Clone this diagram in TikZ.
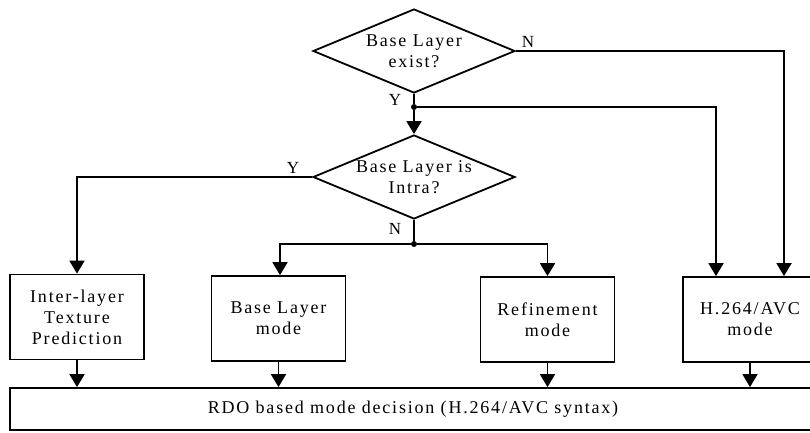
\documentclass[tikz,border=0pt]{standalone}
\usepackage{fontspec}
\setmainfont{Liberation Serif}[LetterSpace=10]
\usetikzlibrary{shapes.geometric,arrows.meta,positioning,calc}
\tikzset{
    decision/.style={draw, diamond, aspect=2.4, minimum width=202pt,
                     minimum height=84pt, inner sep=0pt, align=center,
                     line width=1.8pt, font=\fontsize{18}{21}\selectfont},
    modeblock/.style={draw, rectangle, minimum width=134pt, minimum height=85pt,
                      align=center, line width=1.8pt,
                      font=\fontsize{18}{21}\selectfont},
    branch/.style={fill, circle, minimum size=6pt, inner sep=0pt},
    yn/.style={font=\fontsize{17}{17}\selectfont, inner sep=0pt},
    % Arrow styles
    flow/.style={-{Triangle[width=15pt,length=13pt]}, line width=1.8pt},
    wire/.style={line width=1.8pt}
}

\begin{document}
\begin{tikzpicture}[x=1pt, y=-1pt]
    \useasboundingbox (0,0) rectangle (810,432);
    \clip (0,0) rectangle (810,432);

    % Decisions
    \node[decision] (exist) at (414,51) {Base Layer\\exist?};
    \node[decision] (intra) at (414,177) {Base Layer is\\Intra?};

    % Mode blocks
    \node[modeblock] (texture) at (77,317) {Inter-layer\\Texture\\Prediction};
    \node[modeblock] (baselayer) at (278.5,318.5) {Base Layer\\mode};
    \node[modeblock] (refine) at (547.5,319.5) {Refinement\\mode};
    \node[modeblock] (avc) at (750,319.5) {H.264/AVC\\mode};
    \node[draw, rectangle, line width=1.8pt, minimum width=806pt, minimum height=42pt,
          font=\fontsize{18}{21}\selectfont] (rdo) at (413,409)
          {RDO based mode decision (H.264/AVC syntax)};

    % Branch points
    \node[branch] (ydot) at (414,107) {};
    \node[branch] (ndot) at (414,244) {};

    % Base layer exists?
    \draw[wire] (exist.south) -- (ydot);
    \draw[flow] (ydot) -- (intra.north);
    \draw[flow] (ydot) -| ([xshift=-34pt]avc.north);
    \draw[flow] (exist.east) -| ([xshift=34pt]avc.north);
    \node[yn] at (395,100) {Y};
    \node[yn] at (528,42) {N};

    % Base layer is intra?
    \draw[flow] (intra.west) -| (texture.north);
    \draw[wire] (intra.south) -- (ndot);
    \draw[flow] (ndot) -| ([xshift=1.5pt]baselayer.north);
    \draw[flow] (ndot) -| (refine.north);
    \node[yn] at (293,168) {Y};
    \node[yn] at (395,229) {N};

    % Into the mode decision
    \foreach \blk in {texture, baselayer, refine, avc}
        \draw[flow] (\blk.south) -- (\blk.south |- rdo.north);
\end{tikzpicture}
\end{document}
